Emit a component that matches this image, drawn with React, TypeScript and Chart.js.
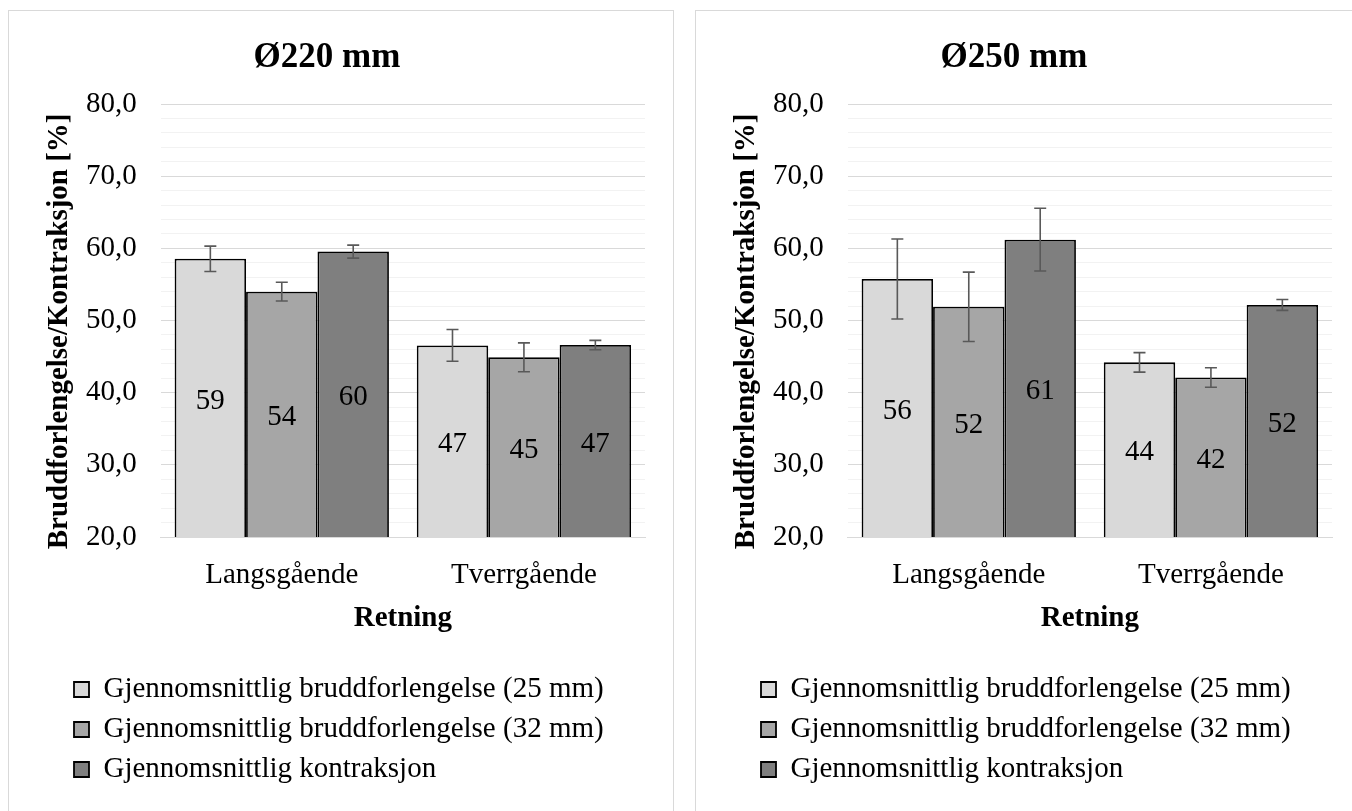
import React, { useEffect, useRef } from 'react';
import { Chart, registerables } from 'chart.js';

Chart.register(...registerables);

const FONT = '"Liberation Serif", "Times New Roman", serif';

const categories = ['Langsgående', 'Tverrgående'];
const seriesNames = [
  'Gjennomsnittlig bruddforlengelse (25 mm)',
  'Gjennomsnittlig bruddforlengelse (32 mm)',
  'Gjennomsnittlig kontraksjon',
];
const seriesColors = ['#d9d9d9', '#a6a6a6', '#7f7f7f'];

// Ø220 mm
const d220Brudd25 = [58.55, 46.55];
const d220Brudd32 = [54.0, 44.9];
const d220Kontraksjon = [59.55, 46.6];
const e220Brudd25 = [1.75, 2.2];
const e220Brudd32 = [1.3, 2.0];
const e220Kontraksjon = [0.9, 0.65];

// Ø250 mm
const d250Brudd25 = [55.75, 44.2];
const d250Brudd32 = [51.9, 42.1];
const d250Kontraksjon = [61.2, 52.15];
const e250Brudd25 = [5.55, 1.35];
const e250Brudd32 = [4.8, 1.35];
const e250Kontraksjon = [4.35, 0.75];

const yMin = 20;
const yMax = 80;
const yStep = 2;
const yMajorStep = 10;

const yTitle = 'Bruddforlengelse/Kontraksjon [%]   ';
const xTitle = 'Retning';

const errorBarsPlugin = {
  id: 'errorBars',
  afterDatasetsDraw(chart: any) {
    const ctx = chart.ctx;
    const yScale = chart.scales.y;
    ctx.save();
    ctx.strokeStyle = '#595959';
    ctx.lineWidth = 1.6;
    chart.data.datasets.forEach((ds: any, i: number) => {
      const meta = chart.getDatasetMeta(i);
      meta.data.forEach((el: any, j: number) => {
        const v = ds.data[j];
        const e = ds.errors[j];
        const x = el.x;
        const yT = yScale.getPixelForValue(v + e);
        const yB = yScale.getPixelForValue(v - e);
        const cap = 6;
        ctx.beginPath();
        ctx.moveTo(x, yT);
        ctx.lineTo(x, yB);
        ctx.moveTo(x - cap, yT);
        ctx.lineTo(x + cap, yT);
        ctx.moveTo(x - cap, yB);
        ctx.lineTo(x + cap, yB);
        ctx.stroke();
      });
    });
    ctx.restore();
  },
};

const barLabelsPlugin = {
  id: 'barLabels',
  afterDatasetsDraw(chart: any) {
    const ctx = chart.ctx;
    const bottom = chart.chartArea.bottom;
    ctx.save();
    ctx.fillStyle = '#000';
    ctx.font = `29px ${FONT}`;
    ctx.textAlign = 'center';
    ctx.textBaseline = 'middle';
    chart.data.datasets.forEach((ds: any, i: number) => {
      const meta = chart.getDatasetMeta(i);
      meta.data.forEach((el: any, j: number) => {
        const v = ds.data[j];
        const base = Math.min(el.base, bottom);
        ctx.fillText(String(Math.round(v)), el.x, (el.y + base) / 2 + 3);
      });
    });
    ctx.restore();
  },
};

const legendShiftPlugin = {
  id: 'legendShift',
  afterLayout(chart: any) {
    if (chart.legend) {
      chart.legend.left = 54;
    }
  },
};

function Panel(props: { left: number; title: string; values: number[][]; errors: number[][] }) {
  const ref = useRef<HTMLCanvasElement>(null);
  useEffect(() => {
    const canvas = ref.current;
    if (!canvas) return;
    const chart = new Chart(canvas, {
      type: 'bar',
      data: {
        labels: categories,
        datasets: seriesNames.map((name, i) => ({
          label: name,
          data: props.values[i],
          errors: props.errors[i],
          backgroundColor: seriesColors[i],
          borderColor: '#000',
          borderWidth: 1.8,
          categoryPercentage: 0.885,
          barPercentage: 1,
        })) as any,
      },
      options: {
        animation: false,
        responsive: false,
        devicePixelRatio: 1,
        layout: { padding: { left: 0, right: 28, top: 0, bottom: 17 } },
        plugins: {
          title: {
            display: true,
            text: props.title,
            color: '#000',
            font: { family: FONT, size: 35, weight: 'bold' },
            padding: { top: 26, bottom: 25 },
          },
          legend: {
            display: true,
            position: 'bottom',
            align: 'start',
            labels: {
              color: '#000',
              font: { family: FONT, size: 29 },
              boxWidth: 15,
              boxHeight: 15,
              padding: 11,
            },
          },
          tooltip: { enabled: false },
        },
        scales: {
          x: {
            grid: { display: false, drawTicks: false },
            border: { display: true, color: '#d9d9d9', width: 1 },
            ticks: { color: '#000', font: { family: FONT, size: 29 }, padding: 21 },
            title: {
              display: true,
              text: xTitle,
              color: '#000',
              font: { family: FONT, size: 29, weight: 'bold' },
              padding: { top: 0, bottom: 28 },
            },
            afterFit: (s: any) => {
              s.height = 127;
            },
          },
          y: {
            min: yMin,
            max: yMax,
            ticks: {
              stepSize: yStep,
              autoSkip: false,
              padding: 24,
              color: '#000',
              font: { family: FONT, size: 29 },
              callback: (v: any) => (Number(v) % yMajorStep === 0 ? Number(v).toFixed(1).replace('.', ',') : ''),
            },
            grid: {
              drawTicks: false,
              lineWidth: 1,
              color: (c: any) => (c.tick && c.tick.value % yMajorStep === 0 ? '#d9d9d9' : '#f2f2f2'),
            },
            border: { display: false },
            title: {
              display: true,
              text: yTitle,
              color: '#000',
              font: { family: FONT, size: 29, weight: 'bold' },
              padding: { top: 33.6, bottom: 0 },
            },
            afterFit: (s: any) => {
              s.width = 151.7;
            },
          },
        },
      } as any,
      plugins: [errorBarsPlugin, barLabelsPlugin, legendShiftPlugin],
    });
    return () => chart.destroy();
  }, []);
  return (
    <div
      style={{
        position: 'absolute',
        left: props.left,
        top: 10,
        width: 666,
        height: 830,
        border: '1px solid #d9d9d9',
        boxSizing: 'border-box',
        background: '#fff',
      }}
    >
      <canvas
        ref={ref}
        width={664}
        height={800}
        style={{ position: 'absolute', left: 0, top: 0, width: 664, height: 800 }}
      />
    </div>
  );
}

export default function App() {
  return (
    <div
      style={{
        position: 'fixed',
        left: 0,
        top: 0,
        width: 1352,
        height: 811,
        overflow: 'hidden',
        background: '#fff',
      }}
    >
      <Panel
        left={8}
        title="Ø220 mm"
        values={[d220Brudd25, d220Brudd32, d220Kontraksjon]}
        errors={[e220Brudd25, e220Brudd32, e220Kontraksjon]}
      />
      <Panel
        left={695}
        title="Ø250 mm"
        values={[d250Brudd25, d250Brudd32, d250Kontraksjon]}
        errors={[e250Brudd25, e250Brudd32, e250Kontraksjon]}
      />
    </div>
  );
}
